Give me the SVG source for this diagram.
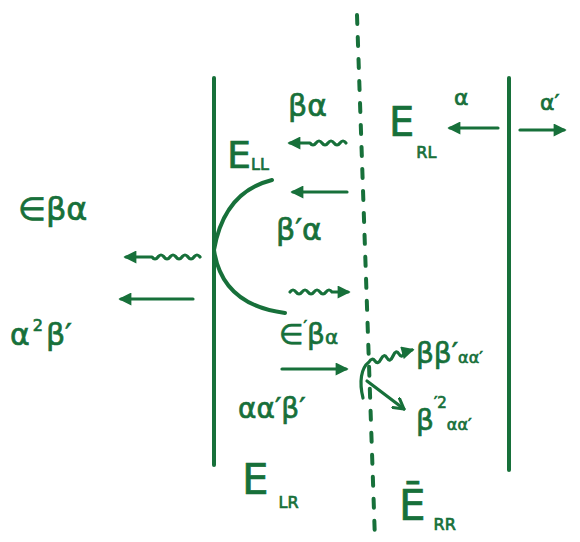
<svg xmlns="http://www.w3.org/2000/svg" width="580" height="542" viewBox="0 0 580 542">
<style>
  .ln { stroke: #17703a; stroke-width: 4; fill: none; stroke-linecap: round; }
  .ar { stroke: #17703a; stroke-width: 3.2; fill: none; stroke-linecap: round; stroke-linejoin: round; }
  .t { fill: #17703a; stroke: #17703a; stroke-width: 0.7; font-family: "DejaVu Sans", "Liberation Sans", sans-serif; }
</style>
<defs>
  <marker id="ah" viewBox="0 0 10 10" refX="8" refY="5" markerWidth="17" markerHeight="13" markerUnits="userSpaceOnUse" orient="auto">
    <path d="M0 0 L10 5 L0 10 Z" fill="#17703a"/>
  </marker>
  <marker id="av" viewBox="0 0 10 10" refX="8" refY="5" markerWidth="14" markerHeight="14" markerUnits="userSpaceOnUse" orient="auto">
    <path d="M1 1 L8 5 L1 9" fill="none" stroke="#17703a" stroke-width="2.2" stroke-linecap="round" stroke-linejoin="round"/>
  </marker>
</defs>
<rect width="580" height="542" fill="#ffffff"/>

<g id="boundaries">
  <path class="ln" d="M214 78 L214 465"/>
  <path class="ln" d="M509 78 L509 470"/>
  <path class="ln" d="M357 15 L375 540" stroke-width="3.5" stroke-dasharray="9 13"/>
  <path class="ln" d="M272 180 Q224 192 214 250 Q222 305 285 313" stroke-width="3"/>
</g>

<g id="connectors">
  <path class="ar" marker-end="url(#ah)" d="M346 143 q-3 -4 -6 0 t-6 0 t-6 0 t-6 0 t-6 0 t-6 0 L290 143"/>
  <path class="ar" marker-end="url(#ah)" d="M347 192 L293 192"/>
  <path class="ar" marker-end="url(#ah)" d="M200 257 q-3 -4 -6 0 t-6 0 t-6 0 t-6 0 t-6 0 t-6 0 t-6 0 t-6 0 L126 257"/>
  <path class="ar" marker-end="url(#ah)" d="M193 299 L121 299"/>
  <path class="ar" marker-end="url(#ah)" d="M290 292 q3 -4 6 0 t6 0 t6 0 t6 0 t6 0 t6 0 t6 0 L348 292"/>
  <path class="ar" marker-end="url(#ah)" d="M282 369 L346 369"/>
  <path class="ar" marker-end="url(#ah)" d="M498 128 L450 128"/>
  <path class="ar" marker-end="url(#ah)" d="M520 130 L564 130"/>
  <path class="ar" marker-end="url(#ah)" d="M363 398 C359 382 361 368 369 362 q3 -5 6 -1 t6 -2 t6 -1 t6 -2 t6 -2 t6 -2 L412 350"/>
  <path class="ar" marker-end="url(#av)" d="M367 381 L404 409"/>
</g>

<g id="n-beta-alpha-top"><text class="t" x="288" y="116" font-size="30">βα</text></g>
<g id="n-E-LL"><text class="t" x="227" y="168" font-size="38">E<tspan font-size="16" dy="2">LL</tspan></text></g>
<g id="n-betap-alpha"><text class="t" x="276" y="240" font-size="30">β′α</text></g>
<g id="n-eps-beta-alpha"><text class="t" x="18" y="220" font-size="32">∈βα</text></g>
<g id="n-alpha2-betap"><text class="t" x="10" y="345" font-size="30">α<tspan font-size="16" dy="-14" dx="3">2</tspan><tspan dy="14" dx="3">β′</tspan></text></g>
<g id="n-epsp-beta-alpha"><text class="t" x="279" y="344" font-size="28">∈<tspan font-size="16" dy="-12">′</tspan><tspan dy="12">β</tspan><tspan font-size="20">α</tspan></text></g>
<g id="n-alpha-alphap-betap"><text class="t" x="238" y="418" font-size="28">αα′β′</text></g>
<g id="n-beta-betap-alpha-alphap"><text class="t" x="416" y="363" font-size="28">ββ′<tspan font-size="16">αα′</tspan></text></g>
<g id="n-betap2-alpha-alphap"><text class="t" x="416" y="430" font-size="28">β<tspan font-size="15" dy="-22">′2</tspan><tspan font-size="16" dy="22">αα′</tspan></text></g>
<g id="n-E-RL"><text class="t" x="389" y="136" font-size="40">E<tspan font-size="16" dy="22" dx="2">RL</tspan></text></g>
<g id="n-alpha-small"><text class="t" x="454" y="105" font-size="22">α</text></g>
<g id="n-alphap-edge"><text class="t" x="540" y="110" font-size="22">α′</text></g>
<g id="n-E-LR"><text class="t" x="242" y="494" font-size="42">E<tspan font-size="16" dy="14" dx="10">LR</tspan></text></g>
<g id="n-E-RR"><text class="t" x="399" y="520" font-size="42">Ē<tspan font-size="16" dy="10" dx="8">RR</tspan></text></g>
</svg>
